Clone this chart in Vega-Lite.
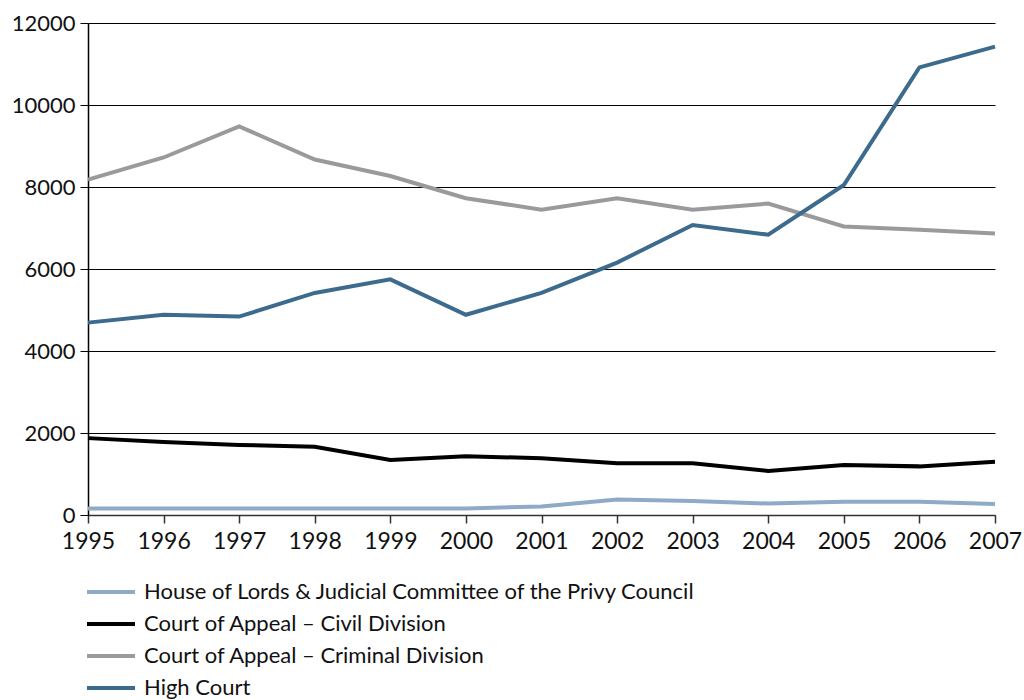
{
  "$schema": "https://vega.github.io/schema/vega-lite/v6.json",
  "autosize": "none",
  "padding": {"left": 88, "top": 23, "right": 29, "bottom": 185},
  "width": 907,
  "height": 492,
  "background": "white",
  "config": {
    "font": "Lato",
    "view": {"stroke": null}
  },
  "data": {
    "values": [
      {"year": 1995, "court": "House of Lords & Judicial Committee of the Privy Council", "value": 157},
      {"year": 1996, "court": "House of Lords & Judicial Committee of the Privy Council", "value": 157},
      {"year": 1997, "court": "House of Lords & Judicial Committee of the Privy Council", "value": 157},
      {"year": 1998, "court": "House of Lords & Judicial Committee of the Privy Council", "value": 157},
      {"year": 1999, "court": "House of Lords & Judicial Committee of the Privy Council", "value": 157},
      {"year": 2000, "court": "House of Lords & Judicial Committee of the Privy Council", "value": 160},
      {"year": 2001, "court": "House of Lords & Judicial Committee of the Privy Council", "value": 209},
      {"year": 2002, "court": "House of Lords & Judicial Committee of the Privy Council", "value": 375},
      {"year": 2003, "court": "House of Lords & Judicial Committee of the Privy Council", "value": 340},
      {"year": 2004, "court": "House of Lords & Judicial Committee of the Privy Council", "value": 279},
      {"year": 2005, "court": "House of Lords & Judicial Committee of the Privy Council", "value": 323},
      {"year": 2006, "court": "House of Lords & Judicial Committee of the Privy Council", "value": 323},
      {"year": 2007, "court": "House of Lords & Judicial Committee of the Privy Council", "value": 270},
      {"year": 1995, "court": "Court of Appeal – Civil Division", "value": 1875},
      {"year": 1996, "court": "Court of Appeal – Civil Division", "value": 1779},
      {"year": 1997, "court": "Court of Appeal – Civil Division", "value": 1709},
      {"year": 1998, "court": "Court of Appeal – Civil Division", "value": 1666},
      {"year": 1999, "court": "Court of Appeal – Civil Division", "value": 1343},
      {"year": 2000, "court": "Court of Appeal – Civil Division", "value": 1430},
      {"year": 2001, "court": "Court of Appeal – Civil Division", "value": 1387},
      {"year": 2002, "court": "Court of Appeal – Civil Division", "value": 1264},
      {"year": 2003, "court": "Court of Appeal – Civil Division", "value": 1264},
      {"year": 2004, "court": "Court of Appeal – Civil Division", "value": 1073},
      {"year": 2005, "court": "Court of Appeal – Civil Division", "value": 1221},
      {"year": 2006, "court": "Court of Appeal – Civil Division", "value": 1186},
      {"year": 2007, "court": "Court of Appeal – Civil Division", "value": 1300},
      {"year": 1995, "court": "Court of Appeal – Criminal Division", "value": 8180},
      {"year": 1996, "court": "Court of Appeal – Criminal Division", "value": 8720},
      {"year": 1997, "court": "Court of Appeal – Criminal Division", "value": 9480},
      {"year": 1998, "court": "Court of Appeal – Criminal Division", "value": 8670},
      {"year": 1999, "court": "Court of Appeal – Criminal Division", "value": 8267},
      {"year": 2000, "court": "Court of Appeal – Criminal Division", "value": 7727},
      {"year": 2001, "court": "Court of Appeal – Criminal Division", "value": 7447},
      {"year": 2002, "court": "Court of Appeal – Criminal Division", "value": 7727},
      {"year": 2003, "court": "Court of Appeal – Criminal Division", "value": 7447},
      {"year": 2004, "court": "Court of Appeal – Criminal Division", "value": 7596},
      {"year": 2005, "court": "Court of Appeal – Criminal Division", "value": 7038},
      {"year": 2006, "court": "Court of Appeal – Criminal Division", "value": 6960},
      {"year": 2007, "court": "Court of Appeal – Criminal Division", "value": 6863},
      {"year": 1995, "court": "High Court", "value": 4692},
      {"year": 1996, "court": "High Court", "value": 4884},
      {"year": 1997, "court": "High Court", "value": 4840},
      {"year": 1998, "court": "High Court", "value": 5416},
      {"year": 1999, "court": "High Court", "value": 5747},
      {"year": 2000, "court": "High Court", "value": 4884},
      {"year": 2001, "court": "High Court", "value": 5416},
      {"year": 2002, "court": "High Court", "value": 6157},
      {"year": 2003, "court": "High Court", "value": 7072},
      {"year": 2004, "court": "High Court", "value": 6837},
      {"year": 2005, "court": "High Court", "value": 8049},
      {"year": 2006, "court": "High Court", "value": 10918},
      {"year": 2007, "court": "High Court", "value": 11424}
    ]
  },
  "mark": {"type": "line", "strokeWidth": 4, "strokeJoin": "miter"},
  "encoding": {
    "x": {
      "field": "year",
      "type": "quantitative",
      "scale": {"domain": [1995, 2007], "nice": false, "zero": false},
      "axis": {
        "title": null,
        "values": [1995, 1996, 1997, 1998, 1999, 2000, 2001, 2002, 2003, 2004, 2005, 2006, 2007],
        "format": "d",
        "grid": false,
        "domainColor": "#333333",
        "domainWidth": 1.5,
        "tickColor": "#333333",
        "tickWidth": 1.5,
        "tickSize": 8,
        "labelFontSize": 23,
        "labelColor": "#111111",
        "labelPadding": 7,
        "labelFlush": false,
        "labelOverlap": false
      }
    },
    "y": {
      "field": "value",
      "type": "quantitative",
      "scale": {"domain": [0, 12000], "nice": false},
      "axis": {
        "title": null,
        "values": [0, 2000, 4000, 6000, 8000, 10000, 12000],
        "format": "d",
        "grid": true,
        "gridColor": "#000000",
        "gridWidth": 1,
        "gridOpacity": 1,
        "domainColor": "#000000",
        "domainWidth": 1.5,
        "tickColor": "#000000",
        "tickSize": 8,
        "labelFontSize": 22,
        "labelColor": "#111111",
        "labelPadding": 5
      }
    },
    "color": {
      "field": "court",
      "type": "nominal",
      "scale": {
        "domain": [
          "House of Lords & Judicial Committee of the Privy Council",
          "Court of Appeal – Civil Division",
          "Court of Appeal – Criminal Division",
          "High Court"
        ],
        "range": ["#8faac6", "#000000", "#9a9a9c", "#3d6b8e"]
      },
      "legend": {
        "title": null,
        "orient": "none",
        "legendX": 12,
        "legendY": 558,
        "direction": "vertical",
        "padding": 0,
        "symbolType": "M-3,0H3",
        "symbolSize": 256,
        "symbolStrokeWidth": 4,
        "rowPadding": 10,
        "labelFontSize": 22,
        "labelColor": "#111111",
        "labelOffset": 22,
        "labelLimit": 800
      }
    }
  }
}
